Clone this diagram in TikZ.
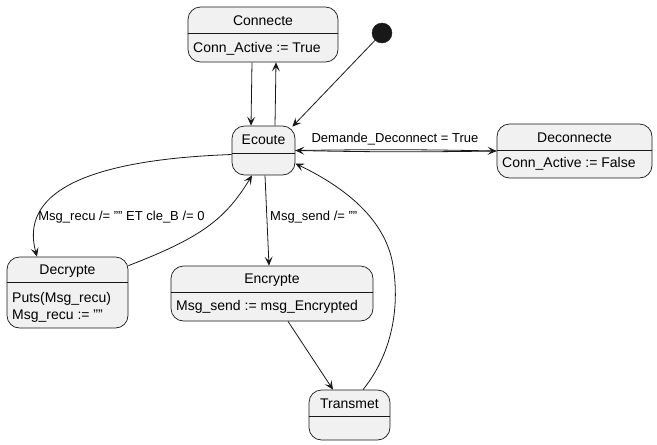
\documentclass[tikz,border=0pt]{standalone}
\usepackage{fontspec}
\setmainfont{Liberation Sans}
\usetikzlibrary{arrows.meta}
\definecolor{boxfill}{HTML}{F1F1F1}
\definecolor{ink}{HTML}{181818}
\begin{document}
\begin{tikzpicture}[x=1pt,y=-1pt,
  statebox/.style={draw=ink, fill=boxfill, rounded corners=12.5pt, line width=0.7pt, inner sep=0pt},
  divline/.style={draw=ink, line width=0.7pt},
  ttl/.style={font=\fontsize{14}{16}\selectfont, text=black, inner sep=0pt},
  bdy/.style={font=\fontsize{14}{17}\selectfont, anchor=west, inner sep=0pt, align=left},
  lbl/.style={font=\fontsize{13}{15}\selectfont, inner sep=0pt},
  arr/.style={-{Stealth[length=9pt,width=8pt,inset=4pt]}, draw=ink, line width=0.8pt}]
\useasboundingbox (0,0) rectangle (657,445);

% states
\node[statebox, minimum width=150pt, minimum height=55pt] (connecte) at (263,34.5) {};
\draw[divline] ([yshift=-27pt]connecte.north west) -- ([yshift=-27pt]connecte.north east);
\node[ttl] (connecteT) at (263,21) {Connecte};
\node[bdy] (connecteB) at (193,49) {Conn\_Active := True};

\node[statebox, minimum width=63pt, minimum height=49pt] (ecoute) at (263.5,150.5) {};
\draw[divline] ([yshift=-28pt]ecoute.north west) -- ([yshift=-28pt]ecoute.north east);
\node[ttl] (ecouteT) at (263.5,140) {Ecoute};

\node[statebox, minimum width=155pt, minimum height=54pt] (deconnecte) at (574.5,151) {};
\draw[divline] ([yshift=-27pt]deconnecte.north west) -- ([yshift=-27pt]deconnecte.north east);
\node[ttl] (deconnecteT) at (574.5,138) {Deconnecte};
\node[bdy] (deconnecteB) at (502,164) {Conn\_Active := False};

\node[statebox, minimum width=121pt, minimum height=71pt] (decrypte) at (67.5,292.5) {};
\draw[divline] ([yshift=-26pt]decrypte.north west) -- ([yshift=-26pt]decrypte.north east);
\node[ttl] (decrypteT) at (67.5,271) {Decrypte};
\node[bdy] (decrypteB) at (12,307.5) {Puts(Msg\_recu)\\Msg\_recu := ""};

\node[statebox, minimum width=202pt, minimum height=55pt] (encrypte) at (272,293.5) {};
\draw[divline] ([yshift=-27pt]encrypte.north west) -- ([yshift=-27pt]encrypte.north east);
\node[ttl] (encrypteT) at (272,280) {Encrypte};
\node[bdy] (encrypteB) at (176,307) {Msg\_send := msg\_Encrypted};

\node[statebox, minimum width=81pt, minimum height=50pt] (transmet) at (349.5,415) {};
\draw[divline] ([yshift=-27pt]transmet.north west) -- ([yshift=-27pt]transmet.north east);
\node[ttl] (transmetT) at (349.5,404) {Transmet};

% initial state
\node[circle, fill=ink, draw=ink, minimum size=20pt, inner sep=0pt] (init) at (382,33) {};

% transitions
\draw[arr] ([xshift=-11pt]connecte.south) -- ([xshift=-12.5pt]ecoute.north);
\draw[arr] ([xshift=11.5pt]ecoute.north) -- ([xshift=13pt]connecte.south);
\draw[arr] (init) -- ([xshift=-3pt,yshift=-1pt]ecoute.north east);

\draw[arr] (ecoute.east) to[bend left=1] (deconnecte.west);
\draw[arr] (deconnecte.west) to[bend left=1] (ecoute.east);
\node[lbl] (lblDec) at (395,139) {Demande\_Deconnect = True};

\draw[arr] ([yshift=-4pt]ecoute.west) .. controls (80,160) and (20,195) .. ([xshift=-30.5pt]decrypte.north);
\node[lbl] (lblRecu) at (121.5,217) {Msg\_recu /= "" ET cle\_B /= 0};

\draw[arr] ([yshift=-9pt]decrypte.north east) .. controls (200,238) and (225,220) .. ([xshift=-11.5pt]ecoute.south);

\draw[arr] ([xshift=1.5pt]ecoute.south) -- ([xshift=-3pt]encrypte.north);
\node[lbl, anchor=west] (lblSend) at (270,217) {Msg\_send /= ""};

\draw[arr] ([xshift=16pt]encrypte.south) -- ([xshift=-16.5pt]transmet.north);

\draw[arr] ([xshift=13.5pt]transmet.north) .. controls (395,350) and (400,300) .. (392,260)
  .. controls (382,215) and (340,185) .. ([yshift=-13pt]ecoute.east);
\end{tikzpicture}
\end{document}
